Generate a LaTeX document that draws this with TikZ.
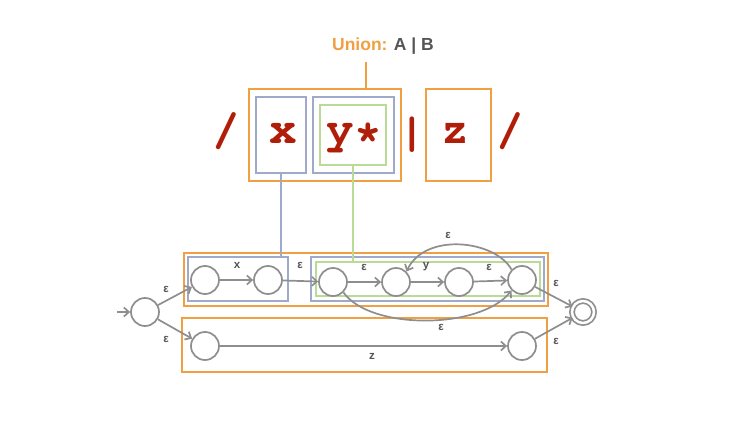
\documentclass[tikz,border=0pt]{standalone}
\usepackage[T1]{fontenc}
\usepackage{fontspec}
\setmainfont{Liberation Sans}
\usetikzlibrary{arrows.meta}
\definecolor{orng}{HTML}{F0A040}
\definecolor{bluegray}{HTML}{9FA9C9}
\definecolor{lgreen}{HTML}{BADB96}
\definecolor{dred}{HTML}{B01E0A}
\definecolor{edgegray}{HTML}{8E8E8E}
\definecolor{txtgray}{HTML}{555555}
\newcommand{\courierbold}{\fontencoding{T1}\fontfamily{pcr}\fontseries{b}\fontshape{n}\fontsize{46}{46}\selectfont}
\tikzset{
  obox/.style={draw=orng, line width=1.4pt},
  bbox/.style={draw=bluegray, line width=1.4pt},
  gbox/.style={draw=lgreen, line width=1.4pt},
  state/.style={circle, draw=edgegray, line width=1.7pt, minimum size=28pt, inner sep=0pt, fill=white},
  accept/.style={state, double=white, double distance=2.5pt, minimum size=22pt},
  edge/.style={draw=edgegray, line width=1.7pt, -{Straight Barb[length=5pt,width=9pt,line width=1.7pt]}},
  lbl/.style={font=\fontsize{11.5}{12}\selectfont\bfseries, text=txtgray, inner sep=1pt},
  code/.style={font=\courierbold, text=dred, inner sep=0pt, anchor=base},
}
\begin{document}
\begin{tikzpicture}[x=1pt,y=-1pt]
\useasboundingbox (0,0) rectangle (750,422);
% title
\node[anchor=base, inner sep=0pt, font=\fontsize{17.5}{18}\selectfont\bfseries] (title) at (383,51)
  {\textcolor{orng}{Union:} \textcolor{txtgray}{A | B}};
% regex boxes
\node[obox, minimum width=152pt, minimum height=92pt, inner sep=0pt] (ubox) at (325,135) {};
\node[bbox, minimum width=50pt, minimum height=76pt, inner sep=0pt] (xbox) at (281,135) {};
\node[bbox, minimum width=81pt, minimum height=76pt, inner sep=0pt] (ybox) at (353.5,135) {};
\node[gbox, minimum width=66pt, minimum height=60pt, inner sep=0pt] (gbox) at (353,135) {};
\node[obox, minimum width=65pt, minimum height=92pt, inner sep=0pt] (zbox) at (458.5,135) {};
\draw[orng, line width=1.4pt] (366,62) coordinate (tl) -- (tl |- ubox.north);
% regex text
\node[code] (sl1) at (226,145) {/};
\node[code] (tx) at (283,144) {x};
\node[code] (ty) at (354,144) {y*};
\node[code] (bar) at (412,146) {|};
\node[code] (tz) at (455,144) {z};
\node[code] (sl2) at (510,145) {/};
% lower boxes
\node[obox, minimum width=364pt, minimum height=53pt, inner sep=0pt] (o1) at (366,279.5) {};
\node[obox, minimum width=365pt, minimum height=54pt, inner sep=0pt] (o2) at (364.5,345) {};
\node[bbox, minimum width=100pt, minimum height=44pt, inner sep=0pt] (b1) at (238,279) {};
\node[bbox, minimum width=233pt, minimum height=44pt, inner sep=0pt] (b2) at (427.5,279) {};
\node[gbox, minimum width=224pt, minimum height=34pt, inner sep=0pt] (g2) at (428,279) {};
% connectors from regex to NFA
\draw[bluegray, line width=1.4pt] (xbox.south) coordinate (xs) -- (xs |- b1.north);
\draw[lgreen, line width=1.4pt] (gbox.south) coordinate (gs) -- (gs |- g2.north);
% states
\node[state] (s0) at (145,312) {};
\node[state] (s1) at (205,280) {};
\node[state] (s2) at (268,280) {};
\node[state] (s3) at (333,282) {};
\node[state] (s4) at (396,282) {};
\node[state] (s5) at (459,282) {};
\node[state] (s6) at (522,280) {};
\node[state] (s7) at (205,346) {};
\node[state] (s8) at (522,346) {};
\node[accept] (sf) at (583,312) {};
\coordinate (in) at (117,312);
% edges
\draw[edge] (in) -- (s0);
\draw[edge] (s0) -- (s1);
\draw[edge] (s0) -- (s7);
\draw[edge] (s1) -- (s2);
\draw[edge] (s2) -- (s3);
\draw[edge] (s3) -- (s4);
\draw[edge] (s4) -- (s5);
\draw[edge] (s5) -- (s6);
\draw[edge] (s6.north west) .. controls (495,240) and (425,232) .. (s4.north east);
\draw[edge] (s3.south east) .. controls (370,330) and (480,330) .. (s6.south west);
\draw[edge] (s6) -- (sf);
\draw[edge] (s8) -- (sf);
\draw[edge] (s7) -- (s8);
% labels
\node[lbl] (e1) at (166,289) {ε};
\node[lbl] (e2) at (166,339) {ε};
\node[lbl] (lx) at (237,265) {x};
\node[lbl] (e3) at (300,265) {ε};
\node[lbl] (e4) at (364,267) {ε};
\node[lbl] (ly) at (426,267) {y};
\node[lbl] (e5) at (489,267) {ε};
\node[lbl] (e6) at (448,235) {ε};
\node[lbl] (e7) at (441,327) {ε};
\node[lbl] (e8) at (556,283) {ε};
\node[lbl] (e9) at (556,341) {ε};
\node[lbl] (lz) at (372,356) {z};
\end{tikzpicture}
\end{document}
